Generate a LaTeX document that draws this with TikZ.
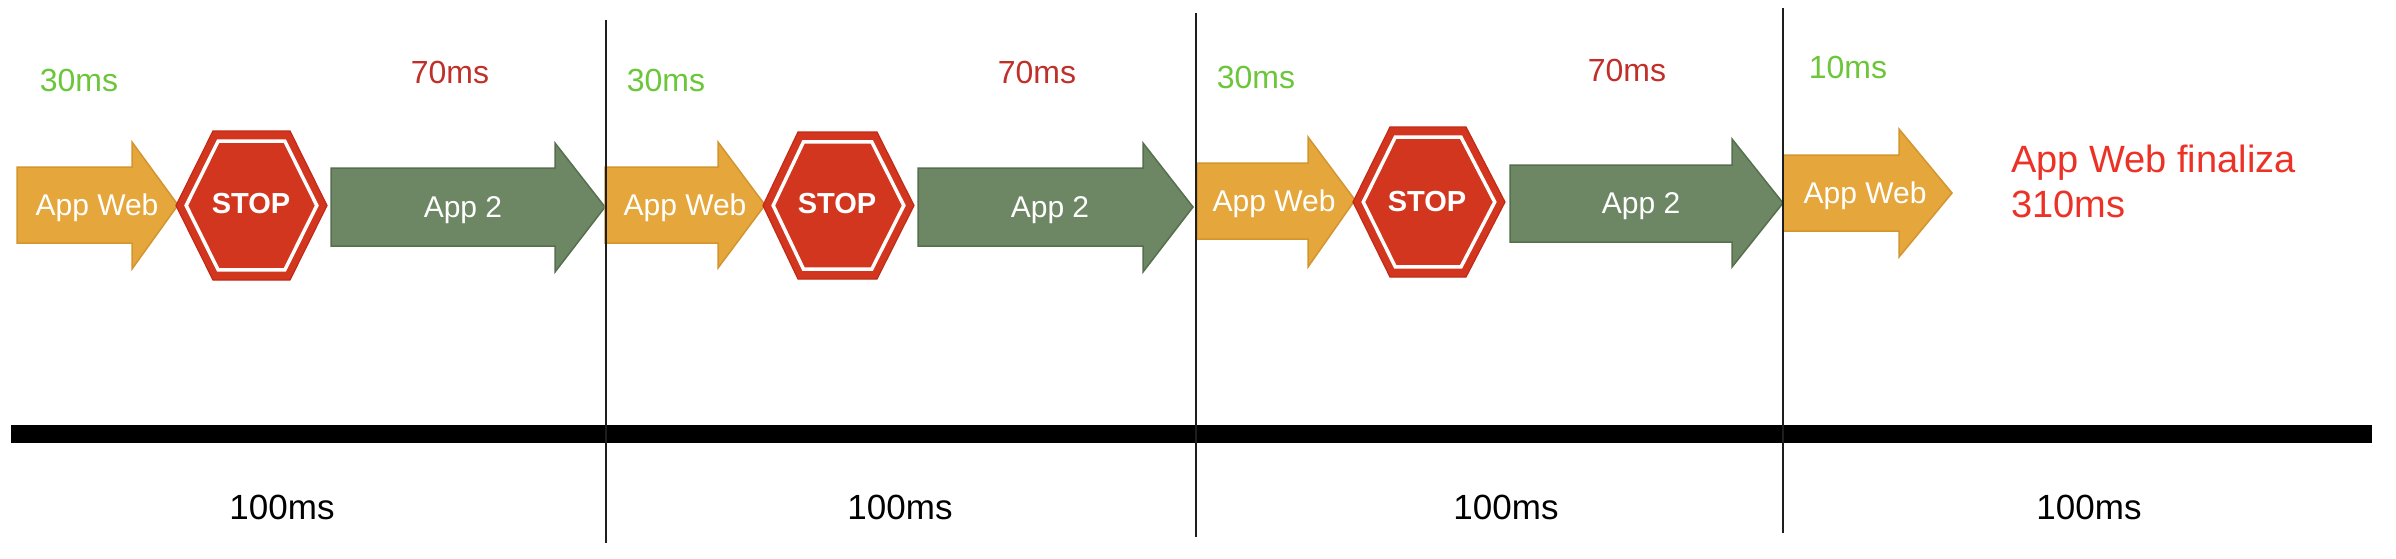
\documentclass[tikz,border=0pt]{standalone}
\usepackage{fontspec}
\setmainfont{Liberation Sans}
\usetikzlibrary{calc}
\definecolor{orangeF}{HTML}{E5A73C}
\definecolor{orangeD}{HTML}{D3952E}
\definecolor{oliveF}{HTML}{6D8764}
\definecolor{oliveD}{HTML}{56704E}
\definecolor{stopR}{HTML}{D3361F}
\definecolor{stopD}{HTML}{C02A17}
\definecolor{greenT}{HTML}{6CC63A}
\definecolor{redT}{HTML}{C0302A}
\definecolor{redF}{HTML}{EC3226}
\definecolor{lineK}{HTML}{1E1E1E}
\tikzset{
  appweb/.style={fill=orangeF, draw=orangeD, line width=1.5pt, line join=miter},
  apptwo/.style={fill=oliveF, draw=oliveD, line width=1.5pt, line join=miter},
  inlabel/.style={text=white, inner sep=0pt, anchor=base, font=\fontsize{30}{36}\selectfont},
  stoplabel/.style={text=white, inner sep=0pt, anchor=base, font=\fontsize{29}{35}\selectfont\bfseries},
  greenlabel/.style={text=greenT, inner sep=0pt, anchor=base, font=\fontsize{32}{38}\selectfont},
  redlabel/.style={text=redT, inner sep=0pt, anchor=base, font=\fontsize{32}{38}\selectfont},
  durlabel/.style={text=black, inner sep=0pt, anchor=base, font=\fontsize{35}{42}\selectfont},
  finlabel/.style={text=redF, inner sep=0pt, anchor=base west, font=\fontsize{38}{45}\selectfont},
  divider/.style={draw=lineK, line width=2.5pt},
}
% #1 left, #2 head start, #3 tip, #4 body top, #5 body bottom, #6 head top, #7 head bottom, #8 tip y, #9 style
\newcommand{\fatarrow}[9]{%
  \path[#9] (#1,#4) -- (#2,#4) -- (#2,#6) -- (#3,#8) -- (#2,#7) -- (#2,#5) -- (#1,#5) -- cycle;}
% #1 name, #2 left, #3 top-left x, #4 top-right x, #5 right, #6 top, #7 bottom
\newcommand{\stophex}[7]{%
  \pgfmathsetmacro\hcy{(#6+#7)/2}%
  \pgfmathsetmacro\hcx{(#2+#5)/2}%
  \coordinate (#1-c) at (\hcx,\hcy);
  \path[fill=stopR, draw=stopD, line width=1.2pt, line join=miter]
    (#2,\hcy) -- (#3,#6) -- (#4,#6) -- (#5,\hcy) -- (#4,#7) -- (#3,#7) -- cycle;
  \draw[white, line width=3.5pt, line join=miter]
    ($(#1-c)!0.865!(#2,\hcy)$) -- ($(#1-c)!0.865!(#3,#6)$) -- ($(#1-c)!0.865!(#4,#6)$) --
    ($(#1-c)!0.865!(#5,\hcy)$) -- ($(#1-c)!0.865!(#4,#7)$) -- ($(#1-c)!0.865!(#3,#7)$) -- cycle;}
\begin{document}
\begin{tikzpicture}[x=1pt, y=-1pt]
\useasboundingbox[fill=white] (0,0) rectangle (2396,558);

% timeline bar
\fill[black] (11,425) rectangle (2372,443);

% segment 1
\fatarrow{17}{132}{178}{167}{243}{142}{269}{205}{appweb}
\stophex{s1}{176}{213}{290}{327}{131}{280}
\fatarrow{331}{555}{605}{168}{246}{143}{272}{207}{apptwo}
\node[inlabel] (aw1) at (97,215) {App Web};
\node[stoplabel] (st1) at (251,213) {STOP};
\node[inlabel] (ap1) at (463,217) {App 2};
\node[greenlabel] (g1) at (79,91) {30ms};
\node[redlabel] (r1) at (450,83) {70ms};

% segment 2
\fatarrow{605}{718}{765}{167}{243}{142}{268}{205}{appweb}
\stophex{s2}{763}{798}{877}{914}{132}{279}
\fatarrow{918}{1143}{1193}{168}{246}{143}{272}{207}{apptwo}
\node[inlabel] (aw2) at (685,215) {App Web};
\node[stoplabel] (st2) at (837,213) {STOP};
\node[inlabel] (ap2) at (1050,217) {App 2};
\node[greenlabel] (g2) at (666,91) {30ms};
\node[redlabel] (r2) at (1037,83) {70ms};

% segment 3
\fatarrow{1197}{1308}{1355}{163}{239}{137}{267}{200}{appweb}
\stophex{s3}{1353}{1390}{1466}{1505}{127}{277}
\fatarrow{1510}{1732}{1783}{165}{242}{139}{267}{203}{apptwo}
\node[inlabel] (aw3) at (1274,211) {App Web};
\node[stoplabel] (st3) at (1427,211) {STOP};
\node[inlabel] (ap3) at (1641,213) {App 2};
\node[greenlabel] (g3) at (1256,88) {30ms};
\node[redlabel] (r3) at (1627,81) {70ms};

% segment 4
\fatarrow{1783}{1899}{1952}{155}{231}{129}{257}{193}{appweb}
\node[inlabel] (aw4) at (1865,203) {App Web};
\node[greenlabel] (g4) at (1848,78) {10ms};
\node[finlabel] (fin1) at (2011,172) {App Web finaliza};
\node[finlabel] (fin2) at (2011,217) {310ms};

% dividers
\coordinate (d1t) at (606,20);   \coordinate (d1b) at (606,543);
\coordinate (d2t) at (1196,13);  \coordinate (d2b) at (1196,537);
\coordinate (d3t) at (1783,8);   \coordinate (d3b) at (1783,533);
\draw[divider] (d1t) -- (d1b);
\draw[divider] (d2t) -- (d2b);
\draw[divider] (d3t) -- (d3b);

% durations
\node[durlabel] (t1) at (282,519) {100ms};
\node[durlabel] (t2) at (900,519) {100ms};
\node[durlabel] (t3) at (1506,519) {100ms};
\node[durlabel] (t4) at (2089,519) {100ms};
\end{tikzpicture}
\end{document}
